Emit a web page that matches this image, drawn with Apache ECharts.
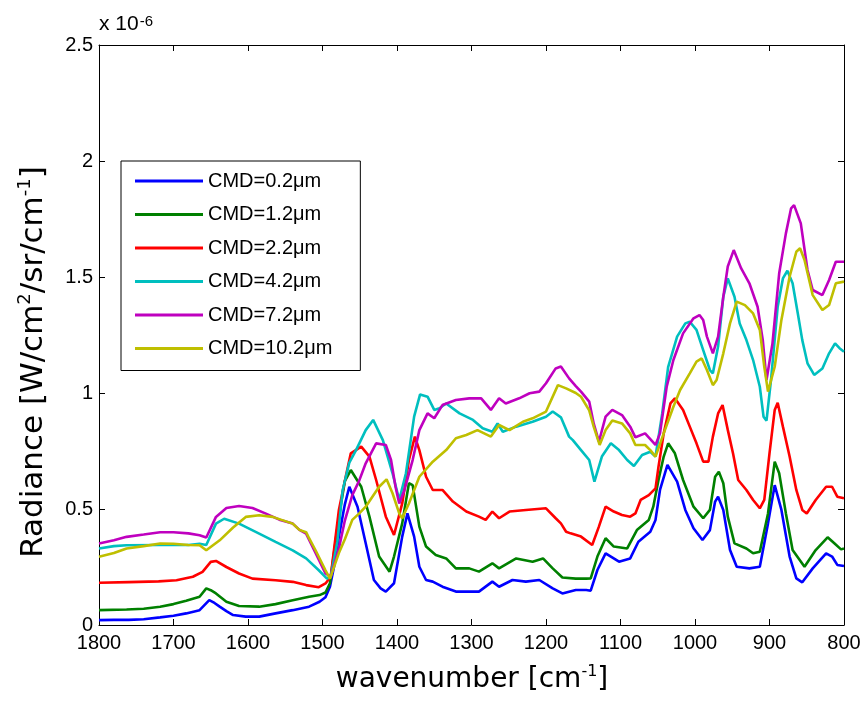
<!DOCTYPE html>
<html>
<head>
<meta charset="utf-8">
<script src="https://cdn.jsdelivr.net/npm/echarts@6/dist/echarts.min.js"></script>
<style>html,body{margin:0;padding:0;background:#fff}#c{width:864px;height:707px}</style>
</head>
<body>
<div id="c"></div>
<script>
// Radiance values in units of 1e-6 W/cm2/sr/cm-1, pairs [wavenumber, radiance]
var legendNames = ['CMD=0.2μm','CMD=1.2μm','CMD=2.2μm','CMD=4.2μm','CMD=7.2μm','CMD=10.2μm'];
var xTicks = [1800,1700,1600,1500,1400,1300,1200,1100,1000,900,800];
var yTicks = [0,0.5,1,1.5,2,2.5];

var cmd02 = [[1800,.021],[1780,.022],[1760,.022],[1740,.025],[1718,.033],[1700,.04],[1683,.05],[1665,.064],[1652,.107],[1645,.095],[1638,.079],[1629,.06],[1620,.043],[1603,.036],[1585,.036],[1563,.05],[1540,.064],[1518,.079],[1504,.1],[1496,.12],[1490,.165],[1484,.26],[1478,.381],[1470,.52],[1464,.596],[1453,.51],[1442,.352],[1431,.194],[1422,.158],[1415,.144],[1404,.18],[1393,.381],[1386,.481],[1377,.381],[1370,.251],[1361,.194],[1352,.187],[1339,.165],[1321,.144],[1305,.144],[1290,.144],[1272,.187],[1263,.165],[1245,.194],[1227,.187],[1209,.194],[1191,.158],[1178,.136],[1160,.151],[1146,.151],[1140,.148],[1131,.237],[1120,.309],[1102,.273],[1087,.287],[1076,.359],[1060,.402],[1053,.453],[1047,.582],[1037,.69],[1024,.618],[1013,.496],[1002,.417],[990,.366],[980,.409],[973,.532],[969,.553],[962,.496],[953,.323],[944,.251],[927,.244],[913,.251],[902,.438],[893,.603],[884,.496],[873,.295],[864,.201],[856,.184],[842,.244],[824,.309],[816,.295],[809,.259],[800,.254]];

var cmd12 = [[1800,.064],[1763,.067],[1740,.07],[1718,.079],[1700,.09],[1683,.105],[1665,.122],[1656,.158],[1650,.15],[1643,.136],[1629,.1],[1612,.082],[1585,.079],[1563,.09],[1540,.107],[1518,.122],[1504,.129],[1496,.14],[1490,.18],[1478,.467],[1470,.62],[1462,.668],[1448,.596],[1437,.467],[1424,.295],[1410,.23],[1404,.295],[1393,.438],[1384,.611],[1379,.603],[1370,.424],[1361,.338],[1348,.302],[1334,.287],[1321,.244],[1303,.244],[1290,.23],[1272,.266],[1263,.244],[1240,.287],[1218,.273],[1204,.287],[1191,.244],[1178,.205],[1160,.2],[1146,.2],[1140,.201],[1131,.295],[1120,.374],[1109,.338],[1091,.33],[1078,.409],[1062,.453],[1056,.51],[1049,.625],[1042,.726],[1036,.783],[1027,.74],[1016,.625],[1002,.51],[989,.46],[980,.496],[973,.639],[968,.661],[962,.611],[956,.467],[947,.352],[931,.33],[922,.309],[913,.316],[902,.481],[893,.704],[887,.654],[878,.481],[869,.323],[853,.251],[838,.323],[822,.378],[813,.352],[804,.326],[800,.33]];

var cmd22 = [[1800,.182],[1760,.185],[1720,.188],[1696,.193],[1674,.208],[1661,.229],[1650,.272],[1643,.276],[1629,.25],[1612,.222],[1594,.2],[1563,.193],[1540,.186],[1522,.172],[1505,.163],[1496,.179],[1489,.208],[1478,.496],[1469,.637],[1462,.74],[1448,.769],[1437,.726],[1428,.625],[1415,.467],[1404,.388],[1393,.524],[1384,.711],[1376,.812],[1370,.754],[1361,.639],[1352,.582],[1339,.582],[1325,.532],[1307,.489],[1290,.467],[1281,.453],[1272,.489],[1263,.46],[1249,.489],[1227,.496],[1200,.503],[1187,.46],[1180,.438],[1173,.402],[1167,.395],[1153,.381],[1138,.345],[1129,.424],[1120,.51],[1109,.489],[1098,.474],[1087,.467],[1080,.481],[1073,.539],[1062,.56],[1053,.589],[1049,.682],[1042,.826],[1033,.955],[1027,.977],[1016,.927],[1007,.855],[998,.783],[989,.704],[982,.704],[976,.812],[969,.912],[963,.948],[956,.841],[949,.74],[942,.625],[931,.582],[922,.539],[913,.503],[907,.539],[900,.74],[893,.927],[889,.958],[882,.855],[873,.726],[864,.582],[856,.496],[850,.481],[838,.539],[824,.596],[816,.596],[809,.553],[800,.546]];

var cmd42 = [[1800,.33],[1780,.34],[1763,.344],[1720,.345],[1680,.345],[1665,.35],[1656,.345],[1643,.437],[1632,.458],[1612,.437],[1585,.394],[1563,.358],[1540,.322],[1522,.287],[1505,.236],[1494,.2],[1489,.208],[1480,.36],[1473,.58],[1464,.7],[1455,.754],[1442,.84],[1432,.884],[1419,.797],[1406,.654],[1397,.539],[1388,.654],[1377,.898],[1369,.994],[1359,.984],[1350,.927],[1343,.934],[1334,.955],[1316,.912],[1298,.884],[1285,.848],[1272,.833],[1265,.869],[1258,.833],[1240,.855],[1218,.876],[1200,.898],[1191,.92],[1180,.895],[1169,.812],[1164,.797],[1153,.754],[1142,.711],[1135,.618],[1125,.726],[1113,.783],[1102,.754],[1091,.711],[1082,.685],[1071,.733],[1060,.747],[1053,.726],[1044,.912],[1036,1.113],[1024,1.243],[1013,1.3],[1007,1.307],[998,1.272],[989,1.185],[980,1.099],[976,1.085],[969,1.2],[962,1.415],[956,1.494],[947,1.415],[940,1.3],[931,1.228],[922,1.142],[913,1.027],[908,.898],[904,.881],[898,1.056],[889,1.372],[882,1.494],[876,1.527],[869,1.473],[862,1.343],[856,1.228],[849,1.128],[840,1.078],[829,1.106],[820,1.171],[812,1.214],[806,1.193],[800,1.178]];

var cmd72 = [[1800,.351],[1780,.365],[1763,.38],[1740,.39],[1718,.4],[1700,.4],[1680,.395],[1665,.387],[1656,.377],[1643,.466],[1629,.504],[1612,.513],[1594,.504],[1576,.48],[1558,.454],[1540,.437],[1531,.41],[1522,.394],[1509,.308],[1496,.222],[1489,.208],[1478,.33],[1470,.45],[1460,.56],[1451,.62],[1442,.697],[1428,.783],[1415,.776],[1408,.711],[1402,.596],[1397,.524],[1390,.582],[1379,.711],[1370,.84],[1359,.912],[1350,.891],[1339,.948],[1321,.97],[1303,.977],[1287,.977],[1274,.927],[1263,.977],[1254,.955],[1236,.977],[1222,.999],[1209,1.006],[1200,1.042],[1187,1.106],[1180,1.114],[1169,1.063],[1160,1.03],[1153,1.006],[1142,.963],[1136,.869],[1129,.79],[1120,.898],[1111,.927],[1098,.905],[1087,.855],[1080,.809],[1067,.826],[1053,.776],[1047,.826],[1038,1.027],[1029,1.142],[1016,1.257],[1002,1.322],[994,1.336],[989,1.315],[984,1.243],[976,1.171],[969,1.243],[962,1.415],[956,1.545],[948,1.616],[938,1.537],[927,1.473],[916,1.372],[909,1.228],[904,1.056],[896,1.214],[887,1.516],[878,1.688],[871,1.796],[867,1.81],[858,1.731],[849,1.53],[842,1.444],[829,1.422],[820,1.487],[811,1.566],[800,1.566]];

var cmd102 = [[1800,.294],[1780,.31],[1763,.33],[1740,.34],[1718,.351],[1700,.35],[1680,.345],[1665,.344],[1656,.322],[1638,.365],[1620,.42],[1603,.466],[1585,.473],[1567,.466],[1540,.437],[1531,.41],[1522,.4],[1518,.374],[1509,.32],[1496,.236],[1490,.2],[1478,.31],[1470,.37],[1460,.453],[1451,.48],[1442,.51],[1424,.596],[1414,.628],[1406,.568],[1397,.481],[1393,.46],[1384,.524],[1370,.639],[1352,.704],[1334,.754],[1321,.805],[1307,.819],[1292,.84],[1274,.812],[1263,.862],[1249,.84],[1231,.876],[1218,.891],[1200,.92],[1184,1.034],[1173,1.02],[1160,1.0],[1153,.984],[1142,.925],[1136,.855],[1128,.776],[1120,.84],[1111,.881],[1098,.869],[1087,.826],[1080,.776],[1067,.776],[1060,.754],[1053,.726],[1042,.826],[1029,.941],[1020,1.013],[1007,1.085],[998,1.135],[991,1.149],[984,1.099],[976,1.034],[971,1.056],[962,1.171],[953,1.3],[944,1.394],[933,1.379],[922,1.343],[913,1.272],[907,1.113],[902,1.006],[893,1.113],[884,1.315],[873,1.501],[864,1.609],[859,1.624],[853,1.573],[842,1.422],[829,1.358],[820,1.379],[811,1.473],[800,1.48]];

var seriesData = [cmd02, cmd12, cmd22, cmd42, cmd72, cmd102];
var colors = ['#0000ff','#008000','#ff0000','#00bfbf','#bf00bf','#bfbf00'];

var chart = echarts.init(document.getElementById('c'), null, {renderer:'canvas'});
var tickFont = 'Liberation Sans, Arial, sans-serif';
var titleFont = 'DejaVu Sans, Verdana, sans-serif';

function xAx(pos, showLabel){
  return {
    type:'value', position:pos, min:xTicks[xTicks.length-1], max:xTicks[0], interval:100, inverse:true,
    axisLine:{show:true, onZero:false, lineStyle:{color:'#000', width:1}},
    axisTick:{show:true, inside:true, length:6, lineStyle:{color:'#000'}},
    splitLine:{show:false},
    axisLabel:{show:showLabel, color:'#000', fontFamily:tickFont, fontSize:20, margin:8, showMinLabel:true, showMaxLabel:true,
      formatter:function(v){ return String(v); }}
  };
}
function yAx(pos, showLabel){
  return {
    type:'value', position:pos, min:yTicks[0], max:yTicks[yTicks.length-1], interval:0.5,
    axisLine:{show:true, onZero:false, lineStyle:{color:'#000', width:1}},
    axisTick:{show:true, inside:true, length:6, lineStyle:{color:'#000'}},
    splitLine:{show:false},
    axisLabel:{show:showLabel, color:'#000', fontFamily:tickFont, fontSize:20, margin:6, showMinLabel:true, showMaxLabel:true,
      formatter:function(v){ return String(v); }}
  };
}

var series = seriesData.map(function(d, i){
  return {
    name: legendNames[i], type:'line', data:d, xAxisIndex:0, yAxisIndex:0,
    symbol:'none', showSymbol:false, smooth:false,
    lineStyle:{color:colors[i], width:2.6}, itemStyle:{color:colors[i]},
    z: 2 + i
  };
});

chart.setOption({
  animation:false,
  backgroundColor:'#fff',
  color: colors,
  grid:{left:99, right:20, top:45, bottom:82, containLabel:false},
  xAxis:[xAx('bottom', true), xAx('top', false)],
  yAxis:[yAx('left', true), yAx('right', false)],
  legend:{
    show:true, orient:'vertical', left:121, top:161,
    padding:[10, 28, 12, 14], itemGap:13.5,
    icon:'rect', itemWidth:68, itemHeight:3,
    backgroundColor:'#fff', borderColor:'#000', borderWidth:1,
    textStyle:{color:'#000', fontFamily:tickFont, fontSize:20, lineHeight:20},
    data: legendNames,
    selectedMode:false
  },
  graphic:[
    {type:'text', x:99, y:14, z:10,
     style:{text:'{a|x 10}{b|-6}', fontSize:21, fontFamily:tickFont, rich:{
        a:{fontFamily:tickFont, fontSize:21, lineHeight:21, verticalAlign:'bottom', fill:'#000'},
        b:{fontFamily:tickFont, fontSize:15, lineHeight:15, padding:[0,0,13,1], verticalAlign:'top', fill:'#000'}
     }}},
    {type:'text', x:472, y:679, z:10,
     style:{text:'{a|wavenumber [cm}{b|-1}{a|]}', align:'center', verticalAlign:'middle', rich:{
        a:{fontFamily:titleFont, fontSize:28, lineHeight:30, verticalAlign:'bottom', fill:'#000'},
        b:{fontFamily:titleFont, fontSize:16, lineHeight:16, padding:[0,0,15,0], verticalAlign:'top', fill:'#000'}
     }}},
    {type:'text', x:33, y:362, rotation:Math.PI/2, z:10,
     style:{text:'{a|Radiance [W/cm}{b|2}{a|/sr/cm}{b|-1}{a|]}', align:'center', verticalAlign:'middle', rich:{
        a:{fontFamily:titleFont, fontSize:31, lineHeight:33, verticalAlign:'bottom', fill:'#000'},
        b:{fontFamily:titleFont, fontSize:18, lineHeight:18, padding:[0,0,16,0], verticalAlign:'top', fill:'#000'}
     }}}
  ],
  series: series
});
</script>
</body>
</html>
